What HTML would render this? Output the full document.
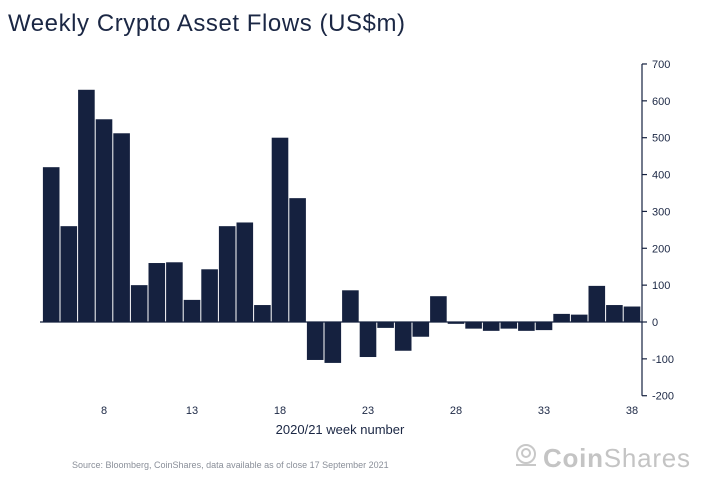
<!DOCTYPE html>
<html><head><meta charset="utf-8"><style>
body{margin:0;background:#fff;width:724px;height:487px;overflow:hidden;font-family:"Liberation Sans",sans-serif}
</style></head><body>
<svg id="chart" width="724" height="487" xmlns="http://www.w3.org/2000/svg">
<text x="8" y="31" font-size="24" textLength="397" fill="#1b2744">Weekly Crypto Asset Flows (US$m)</text>
<g id="plot"></g>
<text x="340" y="434" font-size="13" fill="#1b2744" text-anchor="middle">2020/21 week number</text>
<text x="72" y="468" font-size="9" fill="#8a8f99">Source: Bloomberg, CoinShares, data available as of close 17 September 2021</text>
<g>
<circle cx="526" cy="454" r="9" fill="none" stroke="#c8c8c8" stroke-width="2"/>
<circle cx="526" cy="453" r="4" fill="none" stroke="#c8c8c8" stroke-width="2"/>
<line x1="516" y1="465" x2="536" y2="465" stroke="#c8c8c8" stroke-width="2"/>
<text x="543" y="467" font-size="26" textLength="147" fill="#c4c4c4"><tspan font-weight="bold">Coin</tspan>Shares</text>
</g>
</svg>
<script>
const weeks=[5,6,7,8,9,10,11,12,13,14,15,16,17,18,19,20,21,22,23,24,25,26,27,28,29,30,31,32,33,34,35,36,37,38];
const flows=[420,260,630,550,512,100,160,162,60,143,260,270,46,500,336,-103,-111,86,-95,-16,-78,-40,70,-5,-18,-24,-18,-24,-22,22,20,98,46,42];
const yTicks=[700,600,500,400,300,200,100,0,-100,-200];
const xTicks=[8,13,18,23,28,33,38];
const NS="http://www.w3.org/2000/svg";
const g=document.getElementById('plot');
const x=w=>104+(w-8)*17.6;
const y=v=>322-v*0.3686;
function mk(t,a){const e=document.createElementNS(NS,t);for(const k in a)e.setAttribute(k,a[k]);g.appendChild(e);return e;}
weeks.forEach((w,i)=>{
  const v=flows[i];
  const r=mk('rect',{x:x(w)-8.3,y:Math.min(y(v),y(0)),width:16.6,height:Math.abs(y(v)-y(0)),fill:'#15213f'});
  
  
});
const zl=mk('line',{x1:40,x2:642,y1:y(0),y2:y(0),stroke:'#15213f','stroke-width':1.2});


const ax=mk('line',{x1:642,x2:642,y1:y(700),y2:y(-200),stroke:'#15213f','stroke-width':1.2});


yTicks.forEach(v=>{
  const t=mk('line',{x1:642,x2:647,y1:y(v),y2:y(v),stroke:'#15213f','stroke-width':1.2});
  
  
  const l=mk('text',{x:652,y:y(v)+4,'font-size':11,fill:'#1b2744'});
  l.textContent=v;
  
  
});
xTicks.forEach(w=>{
  const l=mk('text',{x:x(w),y:414,'font-size':11,fill:'#1b2744','text-anchor':'middle'});
  l.textContent=w;
  
  
});
</script>
</body></html>
